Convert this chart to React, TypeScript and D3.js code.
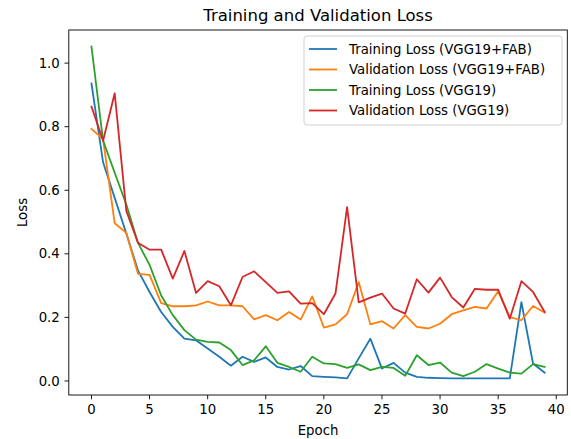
import React, { useEffect, useRef } from "react";
import * as d3 from "d3";

// Loss values per epoch
const epochs: number[] = d3.range(0, 40);

const trainFab: number[] = [
  0.936, 0.688, 0.576, 0.464, 0.348, 0.28, 0.217, 0.17, 0.133, 0.128,
  0.102, 0.076, 0.048, 0.076, 0.06, 0.074, 0.044, 0.036, 0.047, 0.015,
  0.013, 0.011, 0.008, 0.071, 0.133, 0.039, 0.057, 0.026, 0.013, 0.01,
  0.009, 0.008, 0.008, 0.008, 0.008, 0.008, 0.008, 0.248, 0.055, 0.026,
];

const valFab: number[] = [
  0.793, 0.761, 0.496, 0.466, 0.337, 0.334, 0.245, 0.235, 0.235, 0.238,
  0.25, 0.238, 0.238, 0.235, 0.194, 0.207, 0.191, 0.217, 0.193, 0.266,
  0.168, 0.178, 0.21, 0.311, 0.178, 0.188, 0.165, 0.207, 0.17, 0.165,
  0.18, 0.21, 0.222, 0.233, 0.228, 0.282, 0.201, 0.191, 0.236, 0.215,
];

const trainVgg: number[] = [
  1.052, 0.756, 0.655, 0.555, 0.435, 0.365, 0.269, 0.207, 0.16, 0.13,
  0.123, 0.121, 0.097, 0.05, 0.065, 0.109, 0.057, 0.044, 0.029, 0.076,
  0.055, 0.053, 0.041, 0.052, 0.034, 0.044, 0.041, 0.016, 0.081, 0.05,
  0.058, 0.026, 0.015, 0.029, 0.053, 0.039, 0.026, 0.023, 0.053, 0.044,
];

const valVgg: number[] = [
  0.863, 0.756, 0.905, 0.535, 0.435, 0.413, 0.413, 0.322, 0.409, 0.277,
  0.314, 0.298, 0.238, 0.327, 0.345, 0.311, 0.277, 0.282, 0.243, 0.245,
  0.21, 0.275, 0.547, 0.247, 0.262, 0.275, 0.228, 0.212, 0.32, 0.278,
  0.325, 0.264, 0.231, 0.29, 0.287, 0.287, 0.196, 0.314, 0.28, 0.217,
];

const seriesNames: string[] = [
  "Training Loss (VGG19+FAB)",
  "Validation Loss (VGG19+FAB)",
  "Training Loss (VGG19)",
  "Validation Loss (VGG19)",
];
const seriesColors: string[] = ["#1f77b4", "#ff7f0e", "#2ca02c", "#d62728"];

const xTickValues: number[] = [0, 5, 10, 15, 20, 25, 30, 35, 40];
const yTickValues: number[] = [0.0, 0.2, 0.4, 0.6, 0.8, 1.0];

const App: React.FC = () => {
  const svgRef = useRef<SVGSVGElement | null>(null);

  useEffect(() => {
    if (!svgRef.current) return;
    document.body.style.margin = "0";

    const svg = d3.select(svgRef.current);
    svg.selectAll("*").remove();

    const width = 571;
    const height = 439;
    const font = "DejaVu Sans, sans-serif";
    const tickSize = "13.3px";
    svg.attr("width", width).attr("height", height);

    svg.append("rect").attr("width", width).attr("height", height).attr("fill", "#fff");

    // Plot area (matplotlib style margins)
    const left = 68.8;
    const right = 567.3;
    const top = 30;
    const bottom = 395;

    const allSeries = [trainFab, valFab, trainVgg, valVgg];
    const yMin = d3.min(allSeries, (s) => d3.min(s)) as number;
    const yMax = d3.max(allSeries, (s) => d3.max(s)) as number;
    const yPad = (yMax - yMin) * 0.05;
    const xPad = (epochs[epochs.length - 1] - epochs[0]) * 0.05;

    const xScale = d3
      .scaleLinear()
      .domain([epochs[0] - xPad, epochs[epochs.length - 1] + xPad])
      .range([left, right]);
    const yScale = d3
      .scaleLinear()
      .domain([yMin - yPad, yMax + yPad])
      .range([bottom, top]);

    // Lines
    const line = d3
      .line<number>()
      .x((_, i) => xScale(epochs[i]))
      .y((d) => yScale(d));

    const linesGroup = svg.append("g");
    allSeries.forEach((s, i) => {
      linesGroup
        .append("path")
        .datum(s)
        .attr("fill", "none")
        .attr("stroke", seriesColors[i])
        .attr("stroke-width", 1.8)
        .attr("stroke-linejoin", "round")
        .attr("stroke-linecap", "square")
        .attr("d", line);
    });

    // Frame
    svg
      .append("rect")
      .attr("x", left)
      .attr("y", top)
      .attr("width", right - left)
      .attr("height", bottom - top)
      .attr("fill", "none")
      .attr("stroke", "#000")
      .attr("stroke-width", 0.9);

    // x axis ticks
    const xAxis = svg.append("g");
    xAxis
      .selectAll("line")
      .data(xTickValues)
      .enter()
      .append("line")
      .attr("x1", (d) => xScale(d))
      .attr("x2", (d) => xScale(d))
      .attr("y1", bottom)
      .attr("y2", bottom + 4.3)
      .attr("stroke", "#000")
      .attr("stroke-width", 0.9);
    xAxis
      .selectAll("text")
      .data(xTickValues)
      .enter()
      .append("text")
      .attr("x", (d) => xScale(d))
      .attr("y", bottom + 19)
      .attr("text-anchor", "middle")
      .attr("font-family", font)
      .attr("font-size", tickSize)
      .attr("fill", "#000")
      .text((d) => d.toString());

    // y axis ticks
    const yAxis = svg.append("g");
    yAxis
      .selectAll("line")
      .data(yTickValues)
      .enter()
      .append("line")
      .attr("x1", left)
      .attr("x2", left - 4.3)
      .attr("y1", (d) => yScale(d))
      .attr("y2", (d) => yScale(d))
      .attr("stroke", "#000")
      .attr("stroke-width", 0.9);
    yAxis
      .selectAll("text")
      .data(yTickValues)
      .enter()
      .append("text")
      .attr("x", left - 9)
      .attr("y", (d) => yScale(d))
      .attr("dy", "0.35em")
      .attr("text-anchor", "end")
      .attr("font-family", font)
      .attr("font-size", tickSize)
      .attr("fill", "#000")
      .text((d) => d.toFixed(1));

    // Axis labels and title
    svg
      .append("text")
      .attr("x", (left + right) / 2)
      .attr("y", 435)
      .attr("text-anchor", "middle")
      .attr("font-family", font)
      .attr("font-size", tickSize)
      .text("Epoch");

    svg
      .append("text")
      .attr("transform", `translate(27, ${(top + bottom) / 2}) rotate(-90)`)
      .attr("text-anchor", "middle")
      .attr("font-family", font)
      .attr("font-size", tickSize)
      .text("Loss");

    svg
      .append("text")
      .attr("x", (left + right) / 2)
      .attr("y", 21)
      .attr("text-anchor", "middle")
      .attr("font-family", font)
      .attr("font-size", "16.5px")
      .text("Training and Validation Loss");

    // Legend
    const legend = svg.append("g");
    legend
      .append("rect")
      .attr("x", 304)
      .attr("y", 36)
      .attr("width", 258)
      .attr("height", 89)
      .attr("rx", 3)
      .attr("fill", "#fff")
      .attr("fill-opacity", 0.8)
      .attr("stroke", "#ccc")
      .attr("stroke-width", 0.9);

    const rows = legend
      .selectAll("g.row")
      .data(seriesNames)
      .enter()
      .append("g")
      .attr("class", "row")
      .attr("transform", (_, i) => `translate(0, ${49 + i * 20.5})`);
    rows
      .append("line")
      .attr("x1", 309)
      .attr("x2", 337)
      .attr("stroke", (_, i) => seriesColors[i])
      .attr("stroke-width", 1.8);
    rows
      .append("text")
      .attr("x", 349)
      .attr("dy", "0.35em")
      .attr("font-family", font)
      .attr("font-size", tickSize)
      .attr("fill", "#000")
      .text((d) => d);
  }, []);

  return <svg ref={svgRef} style={{ display: "block" }} />;
};

export default App;
